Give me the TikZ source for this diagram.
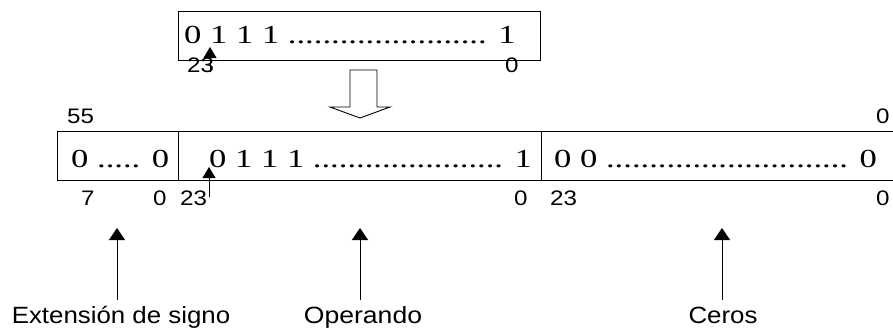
\documentclass[tikz,border=0pt]{standalone}
\usepackage{fontspec}
\setmainfont{Liberation Serif}
\newfontfamily\labelfont{Liberation Sans}
\usetikzlibrary{arrows.meta}
% horizontally widened text
\newcommand{\widen}[2]{\scalebox{#1}[1]{#2}}
\begin{document}
\begin{tikzpicture}[x=1pt,y=-1pt,
  field/.style={draw,line width=0.9pt,inner sep=0pt,minimum height=49pt},
  bits/.style={anchor=base west,inner sep=0pt,font=\fontsize{26}{31}\selectfont},
  idx/.style={anchor=base west,inner sep=0pt,font=\labelfont\fontsize{21}{25}\selectfont},
  caption/.style={anchor=base,inner sep=0pt,font=\labelfont\fontsize{23.5}{28}\selectfont},
  pointer/.style={line width=0.9pt,-{Triangle[width=13pt,length=11pt]}},
  bigpointer/.style={line width=0.9pt,-{Triangle[width=16pt,length=12pt]}}]
\useasboundingbox (0,0) rectangle (893,327);

% 24-bit source register
\node[field,minimum width=362pt] (src) at (359,35.5) {};
\node[bits] (srcbits) at (184,43) {\widen{1.33}{0 1 1 1 ....................... 1}};
\node[idx] (srchi) at (187,72) {\widen{1.15}{23}};
\node[idx] (srclo) at (505,72) {\widen{1.15}{0}};
\coordinate (srctip) at (210,47);
\coordinate (srctail) at (210,72);
\draw[pointer] (srctail) -- (srctip);

% hollow block arrow
\draw[line width=0.9pt,fill=white] (350,70) -- (377,70) -- (377,107) -- (390,107)
  -- (360,118) -- (330,107) -- (350,107) -- cycle;

% 56-bit destination register
\node[idx] (dsthi) at (67,123) {\widen{1.15}{55}};
\node[idx] (dstlo) at (876,123) {\widen{1.15}{0}};
\node[field,minimum width=121pt] (ext) at (117.5,155.5) {};
\node[field,minimum width=363pt] (opd) at (359.5,155.5) {};
\draw[line width=0.9pt] (893,131) -- (541,131) -- (541,180) -- (893,180);

\node[bits] (extbits) at (71,167) {\widen{1.33}{0 ..... 0}};
\node[bits] (opdbits) at (209,167) {\widen{1.33}{0 1 1 1 ...................... 1}};
\node[bits] (zerbits) at (554,167) {\widen{1.33}{0 0 ............................ 0}};

\node[idx] (exthi) at (81,205) {\widen{1.15}{7}};
\node[idx] (extlo) at (153,205) {\widen{1.15}{0}};
\node[idx] (opdhi) at (180,205) {\widen{1.15}{23}};
\node[idx] (opdlo) at (514,205) {\widen{1.15}{0}};
\node[idx] (zerhi) at (550,205) {\widen{1.15}{23}};
\node[idx] (zerlo) at (876,205) {\widen{1.15}{0}};
\coordinate (opdtip) at (209,167);
\coordinate (opdtail) at (209,197);
\draw[pointer] (opdtail) -- (opdtip);

% captions with pointers
\node[caption] (capext) at (121,323) {\widen{1.1}{Extensión de signo}};
\node[caption] (capopd) at (363,323) {\widen{1.13}{Operando}};
\node[caption] (capzer) at (723,323) {\widen{1.1}{Ceros}};
\coordinate (extup) at (117,228);
\coordinate (opdup) at (360,228);
\coordinate (zerup) at (722,228);
\coordinate (extdn) at (117,300);
\coordinate (opddn) at (360,300);
\coordinate (zerdn) at (722,300);
\draw[bigpointer] (extdn) -- (extup);
\draw[bigpointer] (opddn) -- (opdup);
\draw[bigpointer] (zerdn) -- (zerup);
\end{tikzpicture}
\end{document}
